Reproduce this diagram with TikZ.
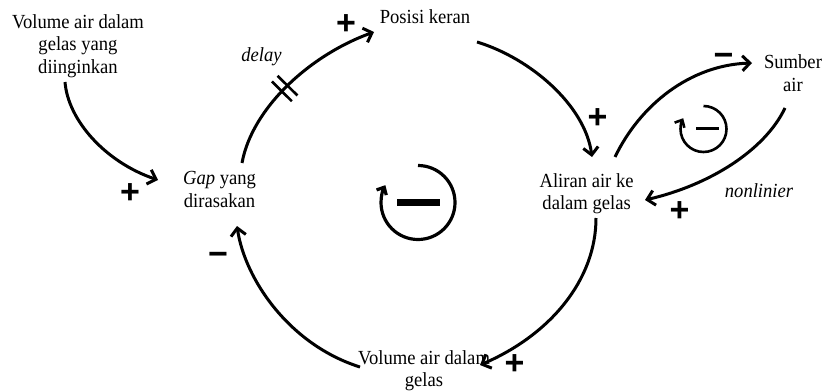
\documentclass[tikz,border=0pt]{standalone}
\usepackage{fontspec}
\setmainfont{Liberation Serif}[FakeStretch=0.93]
\newfontfamily\signfont{Liberation Sans}
\usetikzlibrary{arrows.meta,calc,decorations.markings}
\begin{document}
\begin{tikzpicture}[x=1pt,y=-1pt,
  var/.style={align=center,inner sep=0pt,font=\fontsize{20}{22.5}\selectfont},
  note/.style={inner sep=0pt,anchor=base,font=\fontsize{20}{22.5}\selectfont\itshape},
  sign/.style={inner sep=0pt,font=\signfont\bfseries\fontsize{34}{34}\selectfont},
  link/.style={line width=3pt,-{Straight Barb[length=7.5pt,width=15pt]}},
  delaymark/.style={postaction={decorate,decoration={markings,mark=at position #1 with {\draw[-,line width=2.6pt] (-4,-14)--(-4,14) (4,-14)--(4,14);}}}},
  loopline/.style={line width=#1,-{Straight Barb[length=6pt,width=11pt]}},
]
\useasboundingbox (0,0) rectangle (826,391);

% variables
\node[var] (want) at (78,46) {Volume air dalam\\gelas yang\\diinginkan};
\node[var] (tap) at (425,16.7) {Posisi keran};
\node[var] (gap) at (219.5,189.5) {\textit{Gap} yang\\dirasakan};
\node[var] (flow) at (586.6,193.6) {Aliran air ke\\dalam gelas};
\node[var] (src) at (793,73.4) {Sumber\\air};
\node[var] (vol) at (424,370.6) {Volume air dalam\\gelas};

% notes
\node[note] (dl) at (261.5,61) {delay};
\node[note] (nl) at (759,197) {nonlinier};

% links
\draw[link] ($(want)+(-13,36)$) .. controls +(3,38) and +(-53,-18) .. ($(gap)+(-61.5,-9.5)$);
\draw[link,delaymark=0.45] ($(gap)+(22.5,-26.5)$) .. controls +(10,-55) and +(-64,23) .. ($(tap)+(-51,15.3)$);
\draw[link] ($(tap)+(52,25.3)$) .. controls +(53,16) and +(-7,-52) .. ($(flow)+(5.4,-36.6)$);
\draw[link] ($(flow)+(28.4,-36.6)$) .. controls +(25,-52) and +(-62,2) .. ($(src)+(-41,-10.4)$);
\draw[link] ($(src)+(-8,34.6)$) .. controls +(-20,42) and +(65,-15) .. ($(flow)+(58.4,6.4)$);
\draw[link] ($(flow)+(9.4,24.4)$) .. controls +(0,62) and +(70,-30) .. ($(vol)+(56,-5.6)$);
\draw[link] ($(vol)+(-64,-3.6)$) .. controls +(-70,-22) and +(8,54) .. ($(gap)+(17.5,36.5)$);

% polarity signs
\node[sign] (s1) at (130,193.5) {+};
\node[sign] (s2) at (346,25) {+};
\node[sign] (s3) at (597.5,118.5) {+};
\node[sign] (s4) at (723.5,60) {−};
\node[sign] (s5) at (679.5,211.5) {+};
\node[sign] (s6) at (514.5,365) {+};
\node[sign] (s7) at (218,259) {−};

% loop markers
\coordinate (L1) at (418,202.5);
\draw[loopline=3.2pt] ($(L1)+(0,-37)$) arc[start angle=-90,end angle=208,radius=37];
\draw[line width=7.7pt] ($(L1)+(-21,0)$) -- ($(L1)+(22,0)$);
\coordinate (L2) at (703.5,129);
\draw[loopline=2.6pt] ($(L2)+(0,-23)$) arc[start angle=-90,end angle=208,radius=23];
\draw[line width=3.2pt] ($(L2)+(-7.5,-0.7)$) -- ($(L2)+(15,-0.7)$);
\end{tikzpicture}
\end{document}
